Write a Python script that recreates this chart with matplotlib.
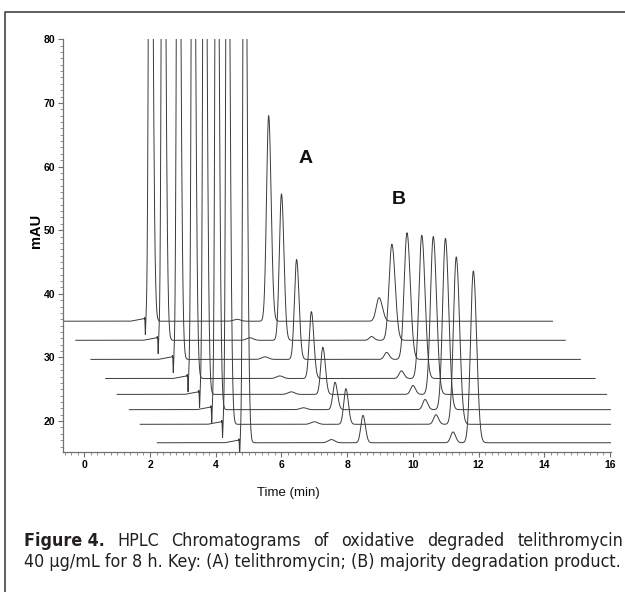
import matplotlib
matplotlib.use('Agg')
import matplotlib.pyplot as plt
import numpy as np
from matplotlib import font_manager
from matplotlib.font_manager import FontProperties
from matplotlib.lines import Line2D
from matplotlib.ticker import MultipleLocator

# 8 stacked runs, back (top) to front (bottom): start offset (min) and baseline (mAU)
x_offsets = [-0.65, -0.26, 0.20, 0.65, 1.00, 1.37, 1.70, 2.22]
y_offsets = [35.7, 32.7, 29.7, 26.7, 24.2, 21.8, 19.5, 16.6]
run_length = 14.9

# retention times inside each run (min)
t_front = 2.65
t_spike = 2.49
t_dip = 2.505
t_minor1 = 5.3
t_a = 6.26
t_minor2 = 9.0
t_b = 9.62

# peak heights above baseline (mAU), one value per run
front_height = 120.0
a_height = [32.3, 23.0, 15.7, 10.5, 7.4, 4.3, 5.6, 4.3]
b_height = [3.7, 15.1, 19.9, 22.5, 24.8, 26.9, 26.3, 27.0]
minor1_height = [0.3, 0.4, 0.4, 0.4, 0.4, 0.3, 0.4, 0.5]
minor2_height = [0.0, 0.6, 1.1, 1.2, 1.4, 1.6, 1.5, 1.7]
spike_height = 0.8
dip_depth = 2.3
ramp_height = 0.4

peak_labels = ['A', 'B']
label_x = [6.72, 9.58]
label_y = [61.3, 54.9]


def peak(t, center, height, s_left, s_right):
    s = np.where(t < center, s_left, s_right)
    return height * np.exp(-0.5 * ((t - center) / s) ** 2)


def run_signal(t, i):
    y = np.interp(t, [2.05, 2.48, 2.481], [0, ramp_height, 0])
    y += peak(t, t_spike, spike_height, 0.006, 0.006)
    y -= peak(t, t_dip, dip_depth, 0.008, 0.01)
    y += peak(t, t_front, front_height, 0.04, 0.07)
    y += peak(t, t_minor1, minor1_height[i], 0.1, 0.1)
    y += peak(t, t_a, a_height[i], 0.065, 0.075)
    y += peak(t, t_minor2, minor2_height[i], 0.07, 0.08)
    y += peak(t, t_b, b_height[i], 0.085, 0.1)
    return y


# caption faces: a regular and a bold condensed face if any are installed
def wnum(w):
    return w if isinstance(w, (int, float)) else font_manager.weight_dict.get(str(w), 400)


fonts = [f for f in font_manager.fontManager.ttflist if f.style == 'normal']
cap_reg, cap_bold = None, None
for st in ['condensed', 'semi-condensed']:
    regs = [f for f in fonts if str(f.stretch).lower() == st and 300 <= wnum(f.weight) <= 450]
    if regs:
        cap_reg = regs[0].fname
        break
for st in ['condensed', 'semi-condensed']:
    bolds = [f for f in fonts if str(f.stretch).lower() == st and 600 <= wnum(f.weight) <= 750]
    if bolds:
        cap_bold = bolds[0].fname
        break


def cap_props(weight, size):
    fn = cap_bold if weight == 'bold' else cap_reg
    if fn is None:
        return FontProperties(family='Liberation Sans', weight=weight, size=size)
    return FontProperties(fname=fn, size=size)


W, H = 625, 592
fig = plt.figure(figsize=(W / 100, H / 100), dpi=100)
ax = fig.add_axes([63 / W, 1 - 452.3 / H, (611 - 63) / W, (452.3 - 39.3) / H])

t = np.arange(0, run_length, 0.002)
for i in range(len(x_offsets)):
    ax.plot(t + x_offsets[i], run_signal(t, i) + y_offsets[i], color='#3a3a3a', lw=0.7)

for lab, lx, ly in zip(peak_labels, label_x, label_y):
    ax.text(lx, ly, lab, ha='center', va='center', fontsize=14, fontweight='bold',
            family='Liberation Sans', color='#111111')

ax.set_xlim(-0.65, 16.03)
ax.set_ylim(15.1, 80)
ax.set_xticks(np.arange(0, 17, 2))
ax.set_yticks(np.arange(20, 81, 10))
ax.xaxis.set_minor_locator(MultipleLocator(0.2))
ax.yaxis.set_minor_locator(MultipleLocator(1))
for s in ['top', 'right']:
    ax.spines[s].set_visible(False)
for s in ['left', 'bottom']:
    ax.spines[s].set_color('#707070')
    ax.spines[s].set_linewidth(0.9)
ax.tick_params(which='major', direction='out', length=3.5, width=0.8, color='#707070',
               labelsize=7.5, pad=2)
ax.tick_params(which='minor', direction='out', length=2, width=0.7, color='#909090')
for lbl in ax.get_xticklabels() + ax.get_yticklabels():
    lbl.set_fontweight('bold')
    lbl.set_family('Liberation Sans')

fig.text(36 / W, 1 - 231 / H, 'mAU', rotation=90, ha='center', va='center',
         fontsize=10.5, fontweight='bold', family='Liberation Sans')
fig.text(288 / W, 1 - 493 / H, 'Time (min)', ha='center', va='center',
         fontsize=9.5, family='Liberation Sans', color='#111111')

# border of the figure panel
fig.add_artist(Line2D([5 / W, 5 / W, 1.01], [0, 1 - 12 / H, 1 - 12 / H],
                      color='#444444', lw=1.2, transform=fig.transFigure))

# caption: fit line 2 to its width, justify line 1
renderer = fig.canvas.get_renderer()


def text_width(s, fp):
    tx = fig.text(0, 0, s, fontproperties=fp)
    w = tx.get_window_extent(renderer).width
    tx.remove()
    return w


line2 = '40 \u00b5g/mL for 8 h. Key: (A) telithromycin; (B) majority degradation product.'
w10 = text_width(line2, cap_props('normal', 10))
fs = min(10 * (621 - 24) / w10, 13.5)
fig.text(24 / W, 1 - 567 / H, line2, va='baseline', color='#231f20',
         fontproperties=cap_props('normal', fs))

words = ['Figure 4.', 'HPLC', 'Chromatograms', 'of', 'oxidative', 'degraded', 'telithromycin']
weights = ['bold'] + ['normal'] * 6
widths = [text_width(wd, cap_props(wt, fs)) for wd, wt in zip(words, weights)]
gap = (623 - 24 - sum(widths)) / (len(words) - 1)
x = 24
for wd, wt, wdt in zip(words, weights, widths):
    fig.text(x / W, 1 - 546 / H, wd, va='baseline', color='#231f20',
             fontproperties=cap_props(wt, fs))
    x += wdt + gap

fig.savefig('out.png', dpi=100)
